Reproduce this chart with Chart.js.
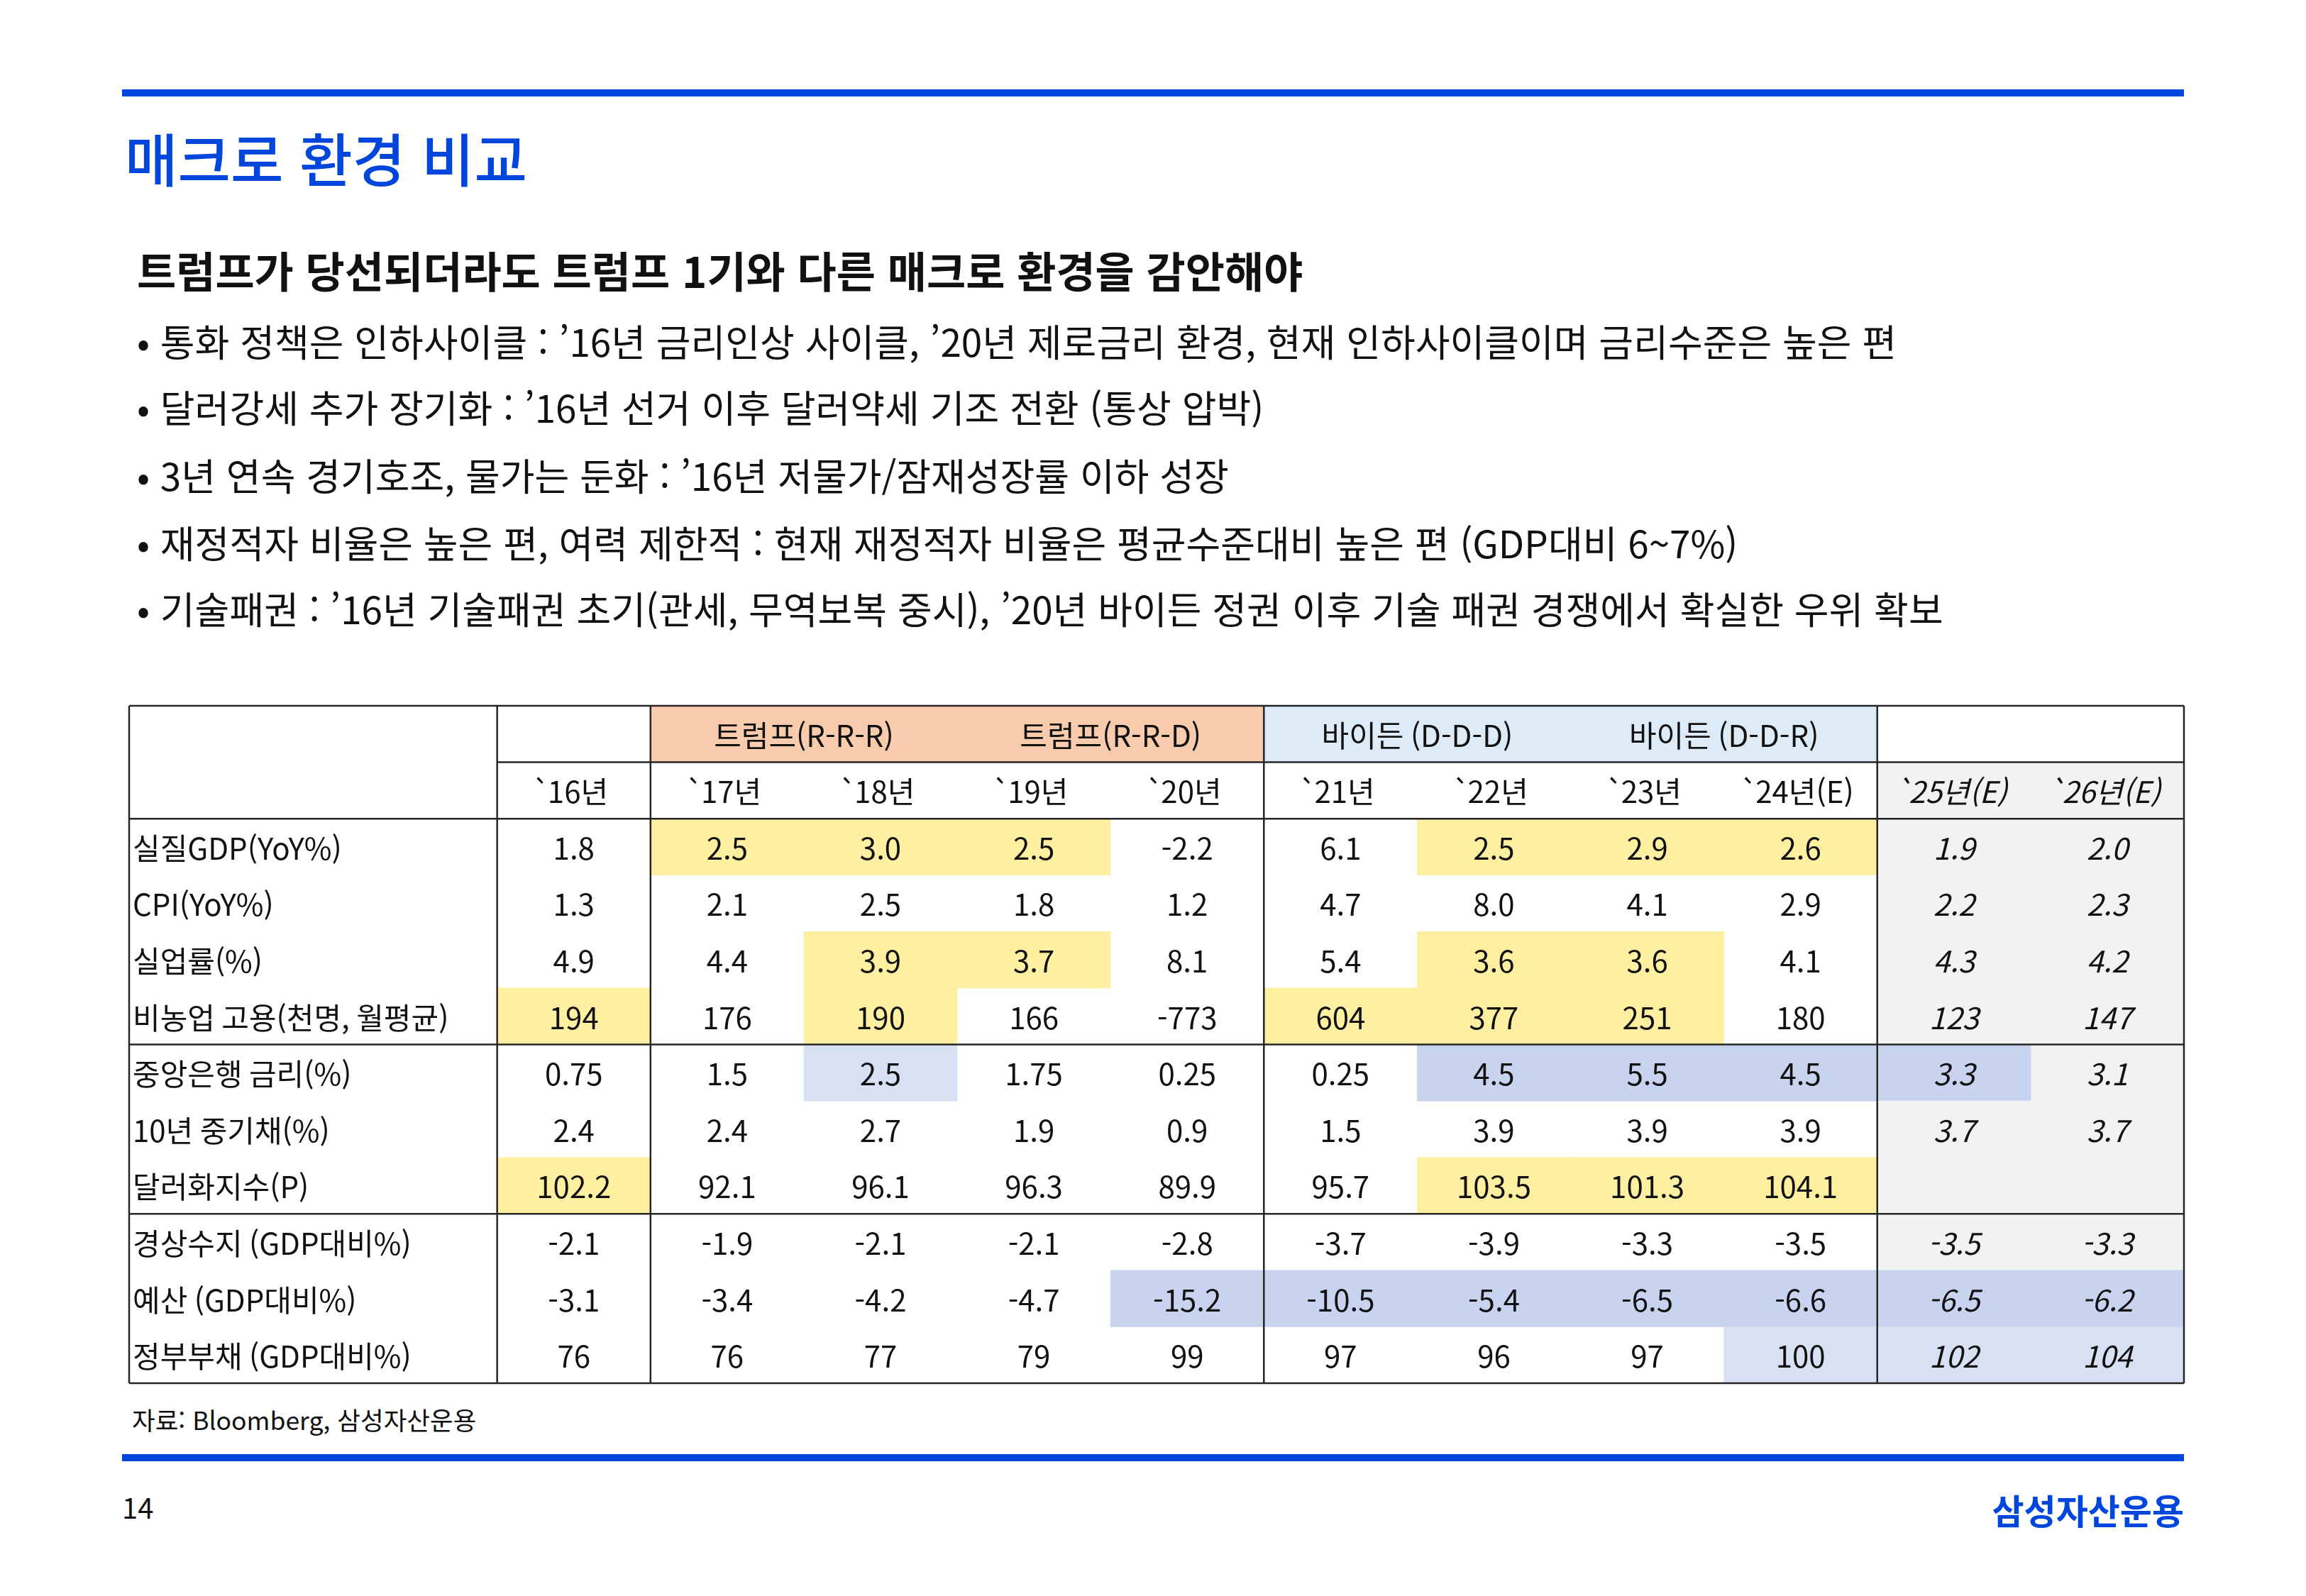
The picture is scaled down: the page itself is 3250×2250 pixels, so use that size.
<!DOCTYPE html>
<html lang="ko">
<head>
<meta charset="utf-8">
<script src="https://cdn.jsdelivr.net/npm/chart.js@4.4.1/dist/chart.umd.min.js"></script>
<style>
  html, body { margin: 0; padding: 0; background: #fff; }
  body { width: 3250px; height: 2250px; position: relative; overflow: hidden;
         font-family: "Noto Sans CJK KR", "Noto Sans", sans-serif; color: #111; }
  .rule { position: absolute; left: 172px; width: 2906px; height: 10px; background: #0046DC; }
  .title { position: absolute; left: 176px; top: 180px; font-size: 81px; line-height: 81px;
           font-weight: 500; color: #0046DC; white-space: pre; }
  .lead { position: absolute; left: 193px; top: 350px; font-size: 60px; line-height: 60px;
          font-weight: 700; white-space: pre; }
  .bullet { position: absolute; left: 193px; font-size: 53px; line-height: 53px; white-space: pre; }
  .source { position: absolute; left: 186px; top: 1983px; font-size: 35.5px; line-height: 36px; white-space: pre; }
  .page { position: absolute; left: 172px; top: 2104px; font-size: 40px; line-height: 40px; }
  .logo { position: absolute; right: 172px; top: 2103px; font-size: 49px; line-height: 49px;
          font-weight: 700; color: #0046DC; }
  #wrap { position: absolute; left: 172px; top: 985px; width: 2916px; height: 975px; }
</style>
</head>
<body>
<div class="rule" style="top:126px"></div>
<div class="title">매크로 환경 비교</div>
<div class="lead">트럼프가 당선되더라도 트럼프 1기와 다른 매크로 환경을 감안해야</div>
<div class="bullet" style="top:454px">• 통화 정책은 인하사이클 : ’16년 금리인상 사이클, ’20년 제로금리 환경, 현재 인하사이클이며 금리수준은 높은 편</div>
<div class="bullet" style="top:547px">• 달러강세 추가 장기화 : ’16년 선거 이후 달러약세 기조 전환 (통상 압박)</div>
<div class="bullet" style="top:643px">• 3년 연속 경기호조, 물가는 둔화 : ’16년 저물가/잠재성장률 이하 성장</div>
<div class="bullet" style="top:738px">• 재정적자 비율은 높은 편, 여력 제한적 : 현재 재정적자 비율은 평균수준대비 높은 편 (GDP대비 6~7%)</div>
<div class="bullet" style="top:831px">• 기술패권 : ’16년 기술패권 초기(관세, 무역보복 중시), ’20년 바이든 정권 이후 기술 패권 경쟁에서 확실한 우위 확보</div>
<div id="wrap"><canvas id="table" width="2916" height="975"></canvas></div>
<div class="source">자료: Bloomberg, 삼성자산운용</div>
<div class="rule" style="top:2050px"></div>
<div class="page">14</div>
<div class="logo">삼성자산운용</div>

<script>
// column headers (years) and the merged group headers above them
const years = ['`16년', '`17년', '`18년', '`19년', '`20년', '`21년', '`22년', '`23년', '`24년(E)', '`25년(E)', '`26년(E)'];
const estimateFrom = 9;
const groupLabels = ['트럼프(R-R-R)', '트럼프(R-R-D)', '바이든 (D-D-D)', '바이든 (D-D-R)'];
const groupStart = [1, 3, 5, 7];
const groupKind = ['p', 'p', 's', 's'];

const rowLabels = ['실질GDP(YoY%)', 'CPI(YoY%)', '실업률(%)', '비농업 고용(천명, 월평균)', '중앙은행 금리(%)',
  '10년 중기채(%)', '달러화지수(P)', '경상수지 (GDP대비%)', '예산 (GDP대비%)', '정부부채 (GDP대비%)'];

const realGdp        = ['1.8', '2.5', '3.0', '2.5', '-2.2', '6.1', '2.5', '2.9', '2.6', '1.9', '2.0'];
const cpi            = ['1.3', '2.1', '2.5', '1.8', '1.2', '4.7', '8.0', '4.1', '2.9', '2.2', '2.3'];
const unemployment   = ['4.9', '4.4', '3.9', '3.7', '8.1', '5.4', '3.6', '3.6', '4.1', '4.3', '4.2'];
const payrolls       = ['194', '176', '190', '166', '-773', '604', '377', '251', '180', '123', '147'];
const policyRate     = ['0.75', '1.5', '2.5', '1.75', '0.25', '0.25', '4.5', '5.5', '4.5', '3.3', '3.1'];
const treasury10y    = ['2.4', '2.4', '2.7', '1.9', '0.9', '1.5', '3.9', '3.9', '3.9', '3.7', '3.7'];
const dollarIndex    = ['102.2', '92.1', '96.1', '96.3', '89.9', '95.7', '103.5', '101.3', '104.1', '', ''];
const currentAccount = ['-2.1', '-1.9', '-2.1', '-2.1', '-2.8', '-3.7', '-3.9', '-3.3', '-3.5', '-3.5', '-3.3'];
const budget         = ['-3.1', '-3.4', '-4.2', '-4.7', '-15.2', '-10.5', '-5.4', '-6.5', '-6.6', '-6.5', '-6.2'];
const govDebt        = ['76', '76', '77', '79', '99', '97', '96', '97', '100', '102', '104'];

// highlighted cells: y = yellow, b = blue, l = light blue
const highlights = [
  '.yyy..yyy..',
  '...........',
  '..yy..yy...',
  'y.y..yyy...',
  '..l...bbbb.',
  '...........',
  'y.....yyy..',
  '...........',
  '....bbbbbbb',
  '........lll'
];

const values = [realGdp, cpi, unemployment, payrolls, policyRate, treasury10y, dollarIndex, currentAccount, budget, govDebt];

const colors = {
  y: '#FFEFA0', b: '#C8D4EF', l: '#D8E0F4', p: '#F8CBAD', s: '#DDEBF7', g: '#F2F2F2'
};
const labelSpan = 2.4;  // label column width in column units
const font = '"Noto Sans CJK KR", "Noto Sans", sans-serif';
const fontSize = 42;

const tableRows = ['group', 'year'].concat(rowLabels);

function cellKind(r, c) {
  if (r === 0) {
    const g = groupStart.findIndex(s => c >= s && c < s + 2);
    return g >= 0 ? groupKind[g] : null;
  }
  if (r === 1) return c >= estimateFrom ? 'g' : null;
  const mark = highlights[r - 2][c];
  if (mark !== '.') return mark;
  return c >= estimateFrom ? 'g' : null;
}

const datasets = years.map((yr, c) => ({
  label: yr,
  data: tableRows.map((_, r) => cellKind(r, c) ? [c, c + 1] : null),
  backgroundColor: tableRows.map((_, r) => colors[cellKind(r, c)] || 'rgba(0,0,0,0)'),
  borderWidth: 0,
  grouped: false,
  barPercentage: 1,
  categoryPercentage: 1
}));

// year labels start with a tick mark; pull it tight against the digits
function drawYear(ctx, text, cx, cy) {
  if (text[0] !== '`') { ctx.fillText(text, cx, cy); return; }
  const rest = text.slice(1);
  const tick = ctx.measureText('`').width;
  const w = ctx.measureText(rest).width;
  const gap = tick * 0.45;
  const start = cx - (gap + w) / 2;
  ctx.textAlign = 'left';
  ctx.fillText('`', start - tick * 0.4, cy);
  ctx.fillText(rest, start + gap, cy);
  ctx.textAlign = 'center';
}

const tablePlugin = {
  id: 'tableText',
  afterDatasetsDraw(chart) {
    const { ctx, scales: { x, y } } = chart;
    const rowTop = k => y.getPixelForValue(k - 0.5);
    ctx.save();
    ctx.fillStyle = '#111';
    ctx.textBaseline = 'middle';

    // group headers, centred over two columns
    ctx.textAlign = 'center';
    ctx.font = `400 ${fontSize}px ${font}`;
    groupLabels.forEach((g, i) => {
      ctx.fillText(g, x.getPixelForValue(groupStart[i] + 1), y.getPixelForValue(0) + 2);
    });
    // year headers
    years.forEach((yr, c) => {
      ctx.font = `${c >= estimateFrom ? 'italic ' : ''}400 ${fontSize}px ${font}`;
      drawYear(ctx, yr, x.getPixelForValue(c + 0.5), y.getPixelForValue(1) + 2);
    });
    // row labels
    ctx.textAlign = 'left';
    ctx.font = `400 ${fontSize}px ${font}`;
    rowLabels.forEach((lab, i) => {
      ctx.fillText(lab, x.getPixelForValue(-labelSpan) + 5, y.getPixelForValue(i + 2) + 2);
    });
    // values
    ctx.textAlign = 'center';
    values.forEach((row, i) => {
      row.forEach((v, c) => {
        ctx.font = `${c >= estimateFrom ? 'italic ' : ''}400 ${fontSize}px ${font}`;
        ctx.fillText(v, x.getPixelForValue(c + 0.5), y.getPixelForValue(i + 2) + 2);
      });
    });

    // grid lines
    ctx.strokeStyle = '#262626';
    ctx.lineWidth = 2.5;
    const left = x.getPixelForValue(-labelSpan), right = x.getPixelForValue(years.length);
    const hLine = (k, x0, x1) => {
      ctx.beginPath(); ctx.moveTo(x0, rowTop(k)); ctx.lineTo(x1, rowTop(k)); ctx.stroke();
    };
    [0, 2, 6, 9, 12].forEach(k => hLine(k, left, right));
    hLine(1, x.getPixelForValue(0), right);
    [-labelSpan, 0, 1, 5, 9, years.length].forEach(v => {
      const px = x.getPixelForValue(v);
      ctx.beginPath(); ctx.moveTo(px, rowTop(0)); ctx.lineTo(px, rowTop(12)); ctx.stroke();
    });
    ctx.restore();
  }
};

new Chart(document.getElementById('table'), {
  type: 'bar',
  data: { labels: tableRows, datasets },
  options: {
    indexAxis: 'y',
    responsive: false,
    animation: false,
    layout: { padding: 10 },
    plugins: { legend: { display: false }, tooltip: { enabled: false } },
    scales: {
      x: { type: 'linear', min: -labelSpan, max: years.length, display: false },
      y: { type: 'category', display: false, offset: true }
    }
  },
  plugins: [tablePlugin]
});
</script>
</body>
</html>
